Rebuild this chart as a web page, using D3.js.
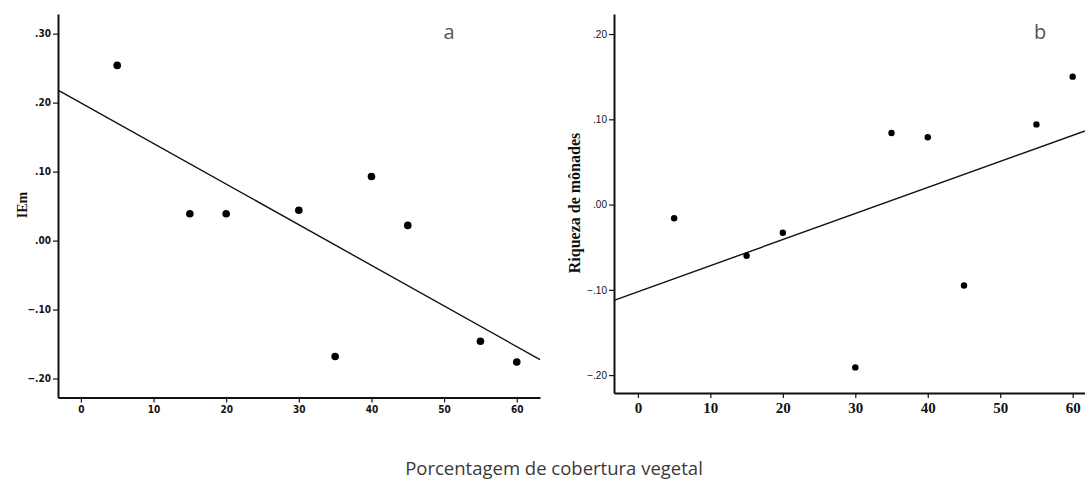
<!DOCTYPE html>
<html>
<head>
<meta charset="utf-8">
<script src="https://cdn.jsdelivr.net/npm/d3@7"></script>
<style>
  html, body { margin: 0; padding: 0; background: #fff; }
  svg { display: block; }
</style>
</head>
<body>
<svg id="chart" width="1085" height="479"></svg>
<script>
// Vegetation cover (%) at each sampled site
const cover = [5, 15, 20, 30, 35, 40, 45, 55, 60];
// Panel a: IEm residuals
const iem = [0.254, 0.039, 0.039, 0.044, -0.168, 0.093, 0.022, -0.146, -0.176];
// Panel b: monad richness residuals
const riqueza = [-0.016, -0.060, -0.033, -0.191, 0.084, 0.079, -0.095, 0.094, 0.150];

const xTicks = [0, 10, 20, 30, 40, 50, 60];
const yTicksA = [-0.2, -0.1, 0.0, 0.1, 0.2, 0.3];
const yTicksB = [-0.2, -0.1, 0.0, 0.1, 0.2];

const svg = d3.select("#chart");

// SPSS style labels: ".30", "-.10"
const fmt = d => d3.format(".2f")(d).replace("0.", ".");

// Ordinary least squares fit
function fit(xs, ys) {
  const mx = d3.mean(xs), my = d3.mean(ys);
  const sxy = d3.sum(xs, (x, i) => (x - mx) * (ys[i] - my));
  const sxx = d3.sum(xs, x => (x - mx) * (x - mx));
  const b = sxy / sxx;
  return x => my + b * (x - mx);
}

function panel(cfg) {
  const x = d3.scaleLinear().domain(cfg.xDomain).range(cfg.xRange);
  const y = d3.scaleLinear().domain(cfg.yDomain).range(cfg.yRange);
  const g = svg.append("g");

  // regression line across the full x extent
  const f = fit(cover, cfg.values);
  g.append("line")
    .attr("x1", x(cfg.xDomain[0])).attr("y1", y(f(cfg.xDomain[0])))
    .attr("x2", x(cfg.xDomain[1])).attr("y2", y(f(cfg.xDomain[1])))
    .attr("stroke", "#111").attr("stroke-width", 1.4);

  // points
  g.selectAll("circle.pt").data(cover).join("circle")
    .attr("class", "pt")
    .attr("cx", d => x(d))
    .attr("cy", (d, i) => y(cfg.values[i]))
    .attr("r", cfg.r)
    .attr("fill", "#000");

  // y axis
  const ya = g.append("g")
    .attr("transform", `translate(${cfg.xRange[0]},0)`)
    .call(d3.axisLeft(y).tickValues(cfg.yTicks).tickFormat(fmt)
      .tickSize(5).tickPadding(2).tickSizeOuter(0));
  ya.select(".domain").attr("stroke", "#111").attr("stroke-width", 2);
  ya.selectAll(".tick line").attr("stroke", "#111").attr("stroke-width", 1.2);
  ya.selectAll(".tick text")
    .attr("fill", "#111")
    .style("font-family", cfg.yFont)
    .style("font-size", cfg.ySize)
    .style("font-weight", cfg.yWeight);

  // x axis
  const xa = g.append("g")
    .attr("transform", `translate(0,${cfg.yRange[0]})`)
    .call(d3.axisBottom(x).tickValues(xTicks).tickFormat(d3.format("d"))
      .tickSize(5).tickPadding(cfg.xPad).tickSizeOuter(0));
  xa.select(".domain").attr("stroke", "#111").attr("stroke-width", 2);
  xa.selectAll(".tick line").attr("stroke", "#111").attr("stroke-width", 1.2);
  xa.selectAll(".tick text")
    .attr("fill", "#111")
    .style("font-family", cfg.xFont)
    .style("font-size", cfg.xSize)
    .style("font-weight", "bold");

  // y axis title
  g.append("text")
    .attr("transform", `translate(${cfg.titleX},${cfg.titleY}) rotate(-90)`)
    .attr("text-anchor", "middle")
    .attr("fill", "#111")
    .style("font-family", "'Liberation Serif', 'Times New Roman', serif")
    .style("font-weight", "bold")
    .style("font-size", cfg.titleSize)
    .text(cfg.title);

  // panel letter
  g.append("text")
    .attr("x", cfg.letterX).attr("y", 39)
    .attr("text-anchor", "middle")
    .attr("fill", "#555")
    .style("font-family", "'Open Sans', sans-serif")
    .style("font-size", "20px")
    .text(cfg.letter);
}

const narrow = "'Liberation Sans Narrow', 'DejaVu Sans Condensed', 'Arial Narrow', sans-serif";

panel({
  values: iem,
  xDomain: [-3.15, 63.2], xRange: [58, 540],
  yDomain: [-0.2275, 0.3285], yRange: [397.5, 14],
  yTicks: yTicksA, r: 3.8,
  yFont: narrow, ySize: "10px", yWeight: "bold",
  xFont: narrow, xSize: "10px", xPad: 3,
  title: "IEm", titleX: 27, titleY: 205, titleSize: "14px",
  letter: "a", letterX: 449
});

panel({
  values: riqueza,
  xDomain: [-3.3, 61.7], xRange: [614, 1085],
  yDomain: [-0.221, 0.2235], yRange: [393, 14],
  yTicks: yTicksB, r: 3.2,
  yFont: "'Liberation Sans', Arial, sans-serif", ySize: "10px", yWeight: "normal",
  xFont: "'Liberation Serif', 'Times New Roman', serif", xSize: "15px", xPad: 4,
  title: "Riqueza de mônades", titleX: 580, titleY: 203, titleSize: "16px",
  letter: "b", letterX: 1040
});

// shared x axis title
svg.append("text")
  .attr("x", 554).attr("y", 475)
  .attr("text-anchor", "middle")
  .attr("fill", "#3a3a3a")
  .style("font-family", "'Open Sans', sans-serif")
  .style("font-size", "18.5px")
  .text("Porcentagem de cobertura vegetal");
</script>
</body>
</html>
